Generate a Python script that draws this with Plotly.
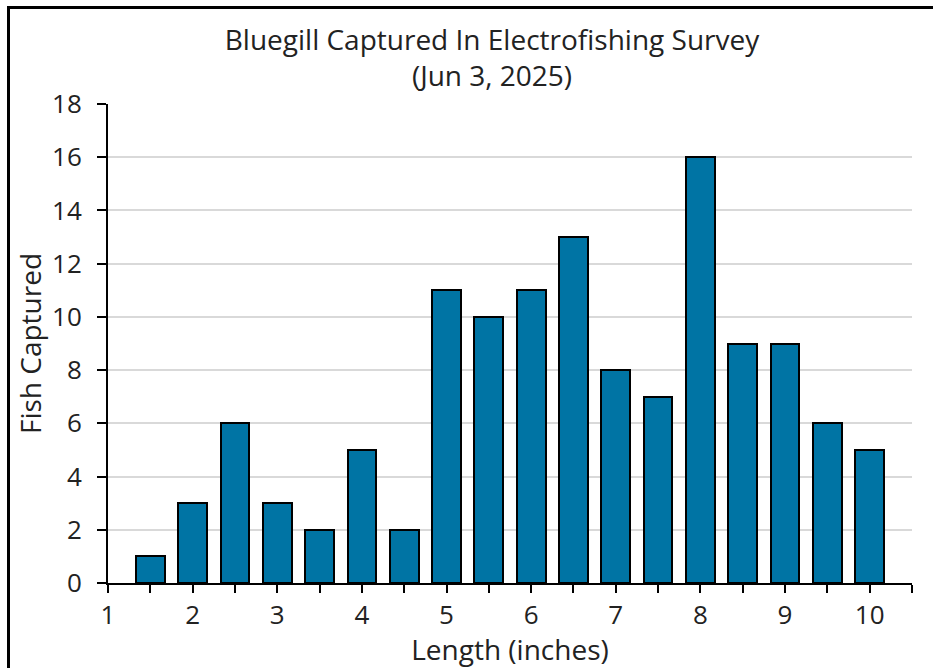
import plotly.graph_objects as go

lengths = [1.5, 2, 2.5, 3, 3.5, 4, 4.5, 5, 5.5, 6, 6.5, 7, 7.5, 8, 8.5, 9, 9.5, 10]
counts = [1, 3, 6, 3, 2, 5, 2, 11, 10, 11, 13, 8, 7, 16, 9, 9, 6, 5]
x_ticks = [1, 2, 3, 4, 5, 6, 7, 8, 9, 10]
y_ticks = [0, 2, 4, 6, 8, 10, 12, 14, 16, 18]

FONT = "Open Sans, sans-serif"
W, H = 933, 668
ML, MR, MT, MB = 108, 21, 104, 85
PW = W - ML - MR
PH = H - MT - MB

def px_x(p):
    return (p - ML) / PW

def px_y(p):
    return (H - MB - p) / PH

fig = go.Figure()
fig.add_trace(go.Bar(
    x=lengths, y=counts, width=0.34,
    marker=dict(color="#0074A4", line=dict(color="black", width=2)),
))

fig.update_layout(
    width=W, height=H,
    margin=dict(l=ML, r=MR, t=MT, b=MB),
    paper_bgcolor="white", plot_bgcolor="white",
    font=dict(family=FONT, color="#222", size=24),
    showlegend=False,
    bargap=0,
    title=dict(
        text="Bluegill Captured In Electrofishing Survey<br>(Jun 3, 2025)",
        x=492 / W, xanchor="center",
        y=1 - 50 / H, yanchor="top",
        font=dict(size=28, family=FONT, color="#222"),
    ),
    xaxis=dict(
        range=[1, 10.5], tickmode="array", tickvals=x_ticks,
        minor=dict(dtick=0.5, tick0=1, ticks="outside", ticklen=8, tickwidth=2, tickcolor="black"),
        ticks="outside", ticklen=8, tickwidth=2, tickcolor="black",
        showline=True, linecolor="black", linewidth=2,
        showgrid=False, zeroline=False,
        tickfont=dict(size=26, family=FONT),
        title=dict(text="Length (inches)", font=dict(size=28, family=FONT), standoff=0),
    ),
    yaxis=dict(
        range=[0, 18], tickmode="array", tickvals=y_ticks,
        ticks="outside", ticklen=9, tickwidth=2, tickcolor="black",
        ticklabelstandoff=10,
        showline=True, linecolor="black", linewidth=2,
        showgrid=True, gridcolor="#d9d9d9", gridwidth=2,
        zeroline=False,
        tickfont=dict(size=26, family=FONT),
        title=dict(text="Fish Captured", font=dict(size=28, family=FONT), standoff=2),
    ),
    shapes=[
        dict(type="rect", xref="paper", yref="paper",
             x0=px_x(8.5), x1=px_x(990), y0=px_y(720), y1=px_y(7.5),
             line=dict(color="black", width=3), fillcolor="rgba(0,0,0,0)", layer="above"),
    ],
)

fig.write_html("out.html", config={"displayModeBar": False},
               post_script="document.body.style.margin='0';document.body.style.overflow='hidden';")
